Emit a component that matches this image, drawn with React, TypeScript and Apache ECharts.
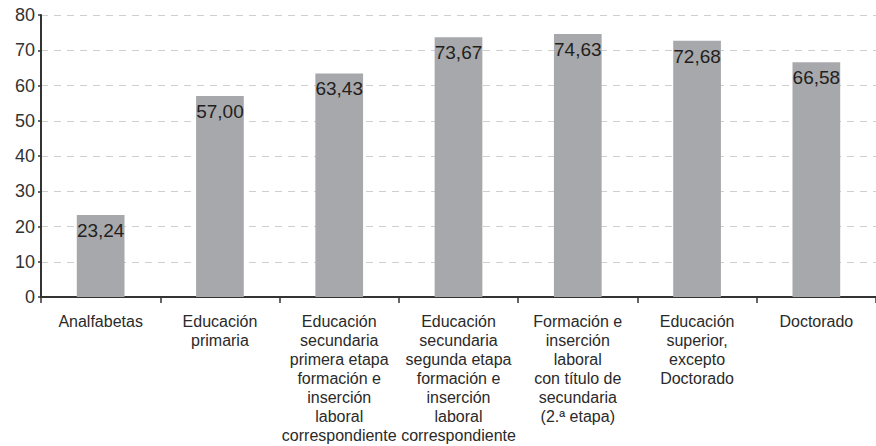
import React, { useEffect, useRef } from "react";
import * as echarts from "echarts";

const categories = [
  "Analfabetas",
  "Educación\nprimaria",
  "Educación\nsecundaria\nprimera etapa\nformación e\ninserción\nlaboral\ncorrespondiente",
  "Educación\nsecundaria\nsegunda etapa\nformación e\ninserción\nlaboral\ncorrespondiente",
  "Formación e\ninserción\nlaboral\ncon título de\nsecundaria\n(2.ª etapa)",
  "Educación\nsuperior,\nexcepto\nDoctorado",
  "Doctorado",
];
const values = [23.24, 57.0, 63.43, 73.67, 74.63, 72.68, 66.58];
const yTicks = { min: 0, max: 80, interval: 10 };

export default function App() {
  const ref = useRef<HTMLDivElement>(null);
  useEffect(() => {
    if (!ref.current) return;
    const chart = echarts.init(ref.current, null, { renderer: "svg" });
    chart.setOption({
      animation: false,
      textStyle: { fontFamily: "Liberation Sans, Arial, sans-serif" },
      grid: { left: 41, right: -1, top: 15, bottom: 149, containLabel: false },
      xAxis: {
        type: "category",
        data: categories,
        axisLine: { lineStyle: { color: "#333", width: 2 } },
        axisTick: { show: true, alignWithLabel: false, length: 6, lineStyle: { color: "#333", width: 1.5 } },
        axisLabel: {
          interval: 0,
          color: "#2a2a2a",
          fontSize: 16,
          lineHeight: 19,
          margin: 15,
          align: "center",
        },
      },
      yAxis: {
        type: "value",
        min: yTicks.min,
        max: yTicks.max,
        interval: yTicks.interval,
        axisLine: { show: true, lineStyle: { color: "#333", width: 2 } },
        axisTick: { show: true, length: 3, lineStyle: { color: "#333", width: 1.5 } },
        axisLabel: { color: "#333", fontSize: 18, margin: 6 },
        splitLine: { show: true, lineStyle: { color: "#cfcfcf", type: [7, 6], width: 1.2 } },
      },
      series: [
        {
          type: "bar",
          data: values,
          barWidth: "40%",
          itemStyle: { color: "#a7a8ab" },
          label: {
            show: true,
            position: "insideTop",
            distance: 6,
            color: "#231f20",
            fontSize: 19,
            formatter: (p: any) => Number(p.value).toFixed(2).replace(".", ","),
          },
        },
      ],
    });
    return () => chart.dispose();
  }, []);
  return (
    <div
      ref={ref}
      style={{ position: "absolute", left: 0, top: 0, width: 876, height: 446 }}
    />
  );
}
